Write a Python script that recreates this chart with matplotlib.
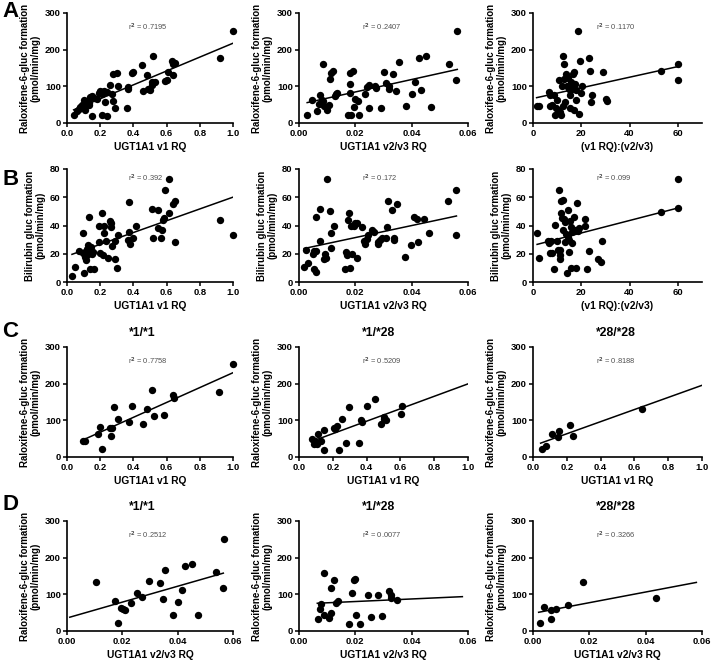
import numpy as np
import matplotlib
matplotlib.use("Agg")
import matplotlib.pyplot as plt
from matplotlib.ticker import FormatStrFormatter, MultipleLocator

plt.rcParams['font.family'] = ['Liberation Sans', 'DejaVu Sans']
plt.rcParams['font.weight'] = 'bold'

# ---- row A: raloxifene glucuronidation ----
a1_x = [0.04, 0.06, 0.07, 0.08, 0.09, 0.10, 0.10, 0.11, 0.12, 0.13, 0.13, 0.14, 0.15, 0.15, 0.16, 0.18, 0.19,
        0.20, 0.21, 0.21, 0.22, 0.23, 0.24, 0.24, 0.26, 0.27, 0.28, 0.28, 0.29, 0.30, 0.31, 0.36, 0.37, 0.37,
        0.39, 0.40, 0.45, 0.46, 0.48, 0.49, 0.50, 0.51, 0.51, 0.52, 0.53, 0.59, 0.60, 0.61, 0.63, 0.64, 0.64,
        0.65, 0.92, 1.00]
a1_y = [22, 33, 38, 45, 48, 40, 62, 35, 60, 55, 50, 72, 75, 20, 68, 65, 83, 87, 80, 22, 88, 58, 20, 85, 103,
        78, 60, 135, 40, 137, 102, 40, 93, 98, 137, 140, 158, 88, 131, 92, 90, 103, 112, 182, 113, 115, 117,
        140, 168, 132, 160, 163, 177, 251]

a2_x = [0.0029, 0.0045, 0.0065, 0.007, 0.0074, 0.008, 0.0085, 0.0086, 0.0088, 0.010, 0.0108, 0.011, 0.0114,
        0.012, 0.0127, 0.013, 0.0135, 0.0174, 0.018, 0.018, 0.0182, 0.0186, 0.019, 0.0195, 0.020, 0.021,
        0.0214, 0.0233, 0.024, 0.025, 0.025, 0.027, 0.0273, 0.029, 0.030, 0.031, 0.032, 0.032, 0.0335,
        0.0346, 0.0355, 0.038, 0.040, 0.0412, 0.0426, 0.0433, 0.045, 0.0467, 0.0533, 0.0559, 0.0562]
a2_y = [23, 63, 34, 52, 76, 63, 161, 59, 47, 36, 50, 119, 137, 142, 74, 80, 83, 22, 136, 82, 106, 22, 141, 45,
        65, 61, 22, 79, 98, 104, 41, 101, 95, 42, 138, 108, 102, 94, 133, 88, 167, 47, 79, 113, 178, 90, 183,
        45, 162, 116, 252]

a3_x = [1.5, 2.6, 6.8, 7.0, 7.0, 7.8, 8.5, 9.3, 9.6, 10.0, 10.5, 10.8, 11.1, 11.5, 12.0, 12.3, 12.6, 13.0,
        13.0, 13.4, 13.8, 14.1, 14.5, 14.9, 15.3, 15.3, 15.6, 16.0, 16.4, 16.5, 16.8, 16.8, 17.3, 17.9, 18.0,
        18.6, 19.0, 19.4, 19.8, 20.1, 23.1, 23.6, 23.9, 24.6, 28.8, 30.3, 30.8, 53.0, 60.0, 60.0]
a3_y = [46, 47, 85, 77, 46, 50, 77, 22, 40, 62, 36, 116, 31, 22, 102, 184, 46, 162, 120, 58, 135, 100, 123, 93,
        76, 40, 111, 93, 133, 98, 138, 36, 107, 89, 62, 252, 24, 169, 82, 102, 178, 141, 58, 77, 138, 65, 60,
        141, 160, 118]

# ---- row B: bilirubin glucuronidation ----
b1_x = [0.03, 0.05, 0.07, 0.094, 0.098, 0.10, 0.11, 0.114, 0.118, 0.118, 0.124, 0.13, 0.134, 0.138, 0.144,
        0.15, 0.157, 0.16, 0.193, 0.193, 0.20, 0.213, 0.217, 0.222, 0.222, 0.236, 0.244, 0.262, 0.266, 0.268,
        0.272, 0.287, 0.29, 0.30, 0.31, 0.366, 0.376, 0.376, 0.38, 0.40, 0.413, 0.51, 0.518, 0.547, 0.55,
        0.567, 0.573, 0.577, 0.587, 0.592, 0.616, 0.616, 0.64, 0.65, 0.652, 0.92, 1.0]
b1_y = [4, 10.7, 22, 20.6, 35, 6.4, 18, 15.4, 19, 23.7, 26, 46, 22.5, 9.5, 25, 19.5, 21.4, 9.5, 40, 28.5, 20.6,
        48.7, 19, 40, 35, 29, 17, 43.4, 41.5, 39, 25.6, 16.6, 29, 10, 33, 30, 56.5, 35.6, 26.6, 31, 39.6, 52,
        31, 51, 38.5, 31, 36.8, 44, 45.6, 64.8, 49, 73, 55, 57, 28.5, 44, 33]

b2_x = [0.0018, 0.0026, 0.0032, 0.0049, 0.0053, 0.0055, 0.0059, 0.0061, 0.0062, 0.0073, 0.0074, 0.0088,
        0.0094, 0.0096, 0.0098, 0.011, 0.0114, 0.0115, 0.0126, 0.0165, 0.0168, 0.017, 0.0174, 0.0176, 0.0182,
        0.0185, 0.0188, 0.0194, 0.020, 0.0206, 0.0206, 0.0224, 0.0232, 0.0233, 0.024, 0.0245, 0.026, 0.0265,
        0.0279, 0.028, 0.0288, 0.0296, 0.0308, 0.0312, 0.0315, 0.033, 0.0338, 0.0339, 0.0347, 0.0376, 0.0396,
        0.0408, 0.0418, 0.0424, 0.0445, 0.0462, 0.053, 0.0559, 0.0559]
b2_y = [10.7, 23, 13.8, 19.7, 22, 9.5, 7, 22, 46, 52, 29, 16, 19.7, 17, 73, 50, 35, 24, 40, 9.5, 21, 19, 44,
        48.7, 10, 40, 20, 40, 41.5, 17, 42, 39, 29, 26.6, 30.4, 33, 36.8, 35.6, 26.6, 28.5, 30, 31.3, 31.3, 39,
        57, 51, 31.3, 29.7, 55, 17.8, 26, 45.8, 44.4, 28.5, 44.4, 35, 57.5, 64.8, 33.2]

b3_x = [1.7, 2.5, 6.2, 6.8, 6.9, 7.5, 7.9, 8.6, 9.1, 10.0, 10.2, 10.6, 11.0, 11.3, 11.3, 11.6, 11.7, 12.0, 12.3,
        12.4, 12.7, 13.1, 13.4, 13.7, 14.1, 14.4, 14.5, 14.8, 15.1, 15.5, 15.8, 15.9, 16.2, 16.2, 17.1, 17.6,
        18.0, 18.2, 18.5, 19.2, 21.7, 21.7, 22.4, 23.1, 27.0, 28.2, 28.6, 53.2, 60.0, 60.0]
b3_y = [35, 17.3, 29, 27.3, 20.2, 29, 20.2, 9, 40.4, 29, 22.5, 65, 22.5, 19, 16, 48.7, 57, 45, 57.7, 36.8, 44.6,
        42.7, 28.5, 34, 6.4, 51, 31.6, 21.4, 29.7, 43.4, 39, 10.2, 27.3, 35.6, 46.3, 36.8, 10.2, 55.8, 36.3, 38,
        44.4, 39.6, 9.5, 22, 16, 14.2, 29.2, 49.9, 52.2, 73]

# ---- row C: raloxifene vs v1 RQ by genotype ----
c1_x = [0.096, 0.106, 0.186, 0.196, 0.21, 0.26, 0.266, 0.274, 0.284, 0.306, 0.372, 0.39, 0.46, 0.484, 0.514,
        0.524, 0.586, 0.636, 0.646, 0.916, 1.0]
c1_y = [44, 45, 62, 82, 23, 79, 56, 80, 136, 103, 95, 138, 89, 132, 184, 112, 115, 168, 162, 177, 253]

c2_x = [0.078, 0.088, 0.094, 0.104, 0.114, 0.128, 0.148, 0.15, 0.208, 0.214, 0.224, 0.234, 0.254, 0.28, 0.294,
        0.354, 0.368, 0.37, 0.404, 0.448, 0.484, 0.5, 0.504, 0.514, 0.604, 0.608]
c2_y = [48, 35, 44, 35, 62, 45, 18, 75, 80, 77, 84, 20, 103, 39, 136, 39, 102, 95, 139, 157, 91, 109, 105, 100,
        116, 139]

c3_x = [0.055, 0.075, 0.114, 0.15, 0.153, 0.22, 0.235, 0.647]
c3_y = [21, 31, 62, 55, 70, 88, 56, 132]

# ---- row D: raloxifene vs v2/v3 RQ by genotype ----
d1_x = [0.0106, 0.0174, 0.0184, 0.0196, 0.0204, 0.021, 0.023, 0.0252, 0.027, 0.0298, 0.0336, 0.0346, 0.0354,
        0.0382, 0.040, 0.0414, 0.0428, 0.045, 0.0472, 0.0538, 0.0564, 0.0568]
d1_y = [135, 81, 22, 63, 59, 56, 77, 103, 94, 137, 131, 88, 167, 45, 79, 111, 176, 182, 43, 161, 116, 251]

d2_x = [0.0067, 0.0076, 0.0079, 0.0087, 0.009, 0.0106, 0.0112, 0.0114, 0.0124, 0.0132, 0.0139, 0.0179, 0.0187,
        0.0196, 0.0199, 0.0202, 0.0218, 0.0246, 0.0255, 0.0279, 0.0293, 0.0318, 0.0326, 0.0328, 0.0347]
d2_y = [33, 61, 75, 158, 45, 36, 49, 117, 140, 77, 83, 20, 104, 138, 143, 43, 20, 97, 39, 99, 41, 108, 99, 90, 84]

d3_x = [0.0025, 0.0039, 0.0063, 0.0065, 0.0083, 0.0125, 0.0176, 0.0435]
d3_y = [23, 65, 33, 56, 59, 72, 134, 90]

# labels / text
r2_text = ["0.7195", "0.2407", "0.1170", "0.392", "0.172", "0.099",
           "0.7758", "0.5209", "0.8188", "0.2512", "0.0077", "0.3266"]
ralox_label = "Raloxifene-6-gluc formation\n(pmol/min/mg)"
bili_label = "Bilirubin gluc formation\n(pmol/min/mg)"
xlab_v1 = "UGT1A1 v1 RQ"
xlab_v23 = "UGT1A1 v2/v3 RQ"
xlab_ratio = "(v1 RQ):(v2/v3)"
genotypes = ["*1/*1", "*1/*28", "*28/*28"]
row_letters = ["A", "B", "C", "D"]

# x range of each regression line
fit_span = [(0.04, 1.0), (0.0029, 0.0562), (1.5, 60), (0.03, 1.0), (0.0018, 0.0559), (1.7, 60),
            (0.096, 1.0), (0.078, 1.0), (0.045, 1.0), (0.001, 0.0565), (0.0065, 0.058), (0.002, 0.058)]

panels = [
    (a1_x, a1_y, xlab_v1, ralox_label),
    (a2_x, a2_y, xlab_v23, ralox_label),
    (a3_x, a3_y, xlab_ratio, ralox_label),
    (b1_x, b1_y, xlab_v1, bili_label),
    (b2_x, b2_y, xlab_v23, bili_label),
    (b3_x, b3_y, xlab_ratio, bili_label),
    (c1_x, c1_y, xlab_v1, ralox_label),
    (c2_x, c2_y, xlab_v1, ralox_label),
    (c3_x, c3_y, xlab_v1, ralox_label),
    (d1_x, d1_y, xlab_v23, ralox_label),
    (d2_x, d2_y, xlab_v23, ralox_label),
    (d3_x, d3_y, xlab_v23, ralox_label),
]

W, H = 711, 660
fig = plt.figure(figsize=(W / 100, H / 100), dpi=100)

col_left = [67, 299, 533]
col_width = [166, 169, 169]
row_top = [13, 169, 347, 521]
row_bot = [123, 282, 457, 631]

for i, (x, y, xlab, ylab) in enumerate(panels):
    r, c = divmod(i, 3)
    ax = fig.add_axes([col_left[c] / W, 1 - row_bot[r] / H,
                       col_width[c] / W, (row_bot[r] - row_top[r]) / H])
    ax.scatter(x, y, s=28, color="black", linewidths=0, clip_on=False, zorder=3)

    # linear regression line
    slope, icpt = np.polyfit(x, y, 1)
    lx = np.array(fit_span[i])
    ax.plot(lx, slope * lx + icpt, color="black", lw=1.1, zorder=2)

    # axis ranges
    if xlab == xlab_v1:
        ax.set_xlim(0, 1.0)
        ax.xaxis.set_major_locator(MultipleLocator(0.2))
        ax.xaxis.set_major_formatter(FormatStrFormatter("%.1f"))
    elif xlab == xlab_v23:
        ax.set_xlim(0, 0.06)
        ax.xaxis.set_major_locator(MultipleLocator(0.02))
        ax.xaxis.set_major_formatter(FormatStrFormatter("%.2f"))
    else:
        ax.set_xlim(0, 70)
        ax.xaxis.set_major_locator(MultipleLocator(20))
    if r == 1:
        ax.set_ylim(0, 80)
        ax.yaxis.set_major_locator(MultipleLocator(20))
    else:
        ax.set_ylim(0, 300)
        ax.yaxis.set_major_locator(MultipleLocator(100))

    for s in ("top", "right"):
        ax.spines[s].set_visible(False)
    for s in ("left", "bottom"):
        ax.spines[s].set_linewidth(1.2)
    ax.tick_params(direction="out", length=3, width=1.1, labelsize=6.8, pad=1.5)
    for lab in ax.get_xticklabels() + ax.get_yticklabels():
        lab.set_fontweight("bold")

    ax.set_xlabel(xlab, fontsize=7.4, fontweight="bold", labelpad=2.5)
    ax.set_ylabel(ylab, fontsize=7.0, fontweight="bold", labelpad=3, linespacing=1.15)

    ty = 0.92 if r == 1 else 0.87
    ax.text(0.37, ty, "r$^2$ = " + r2_text[i], transform=ax.transAxes, fontsize=5.4,
            fontweight="normal", color="#505050", ha="left", va="center")

    if r >= 2:
        ax.text(0.37, 1.13, genotypes[c], transform=ax.transAxes, fontsize=8.8,
                fontweight="bold", ha="left", va="center")

# panel letters
letter_top = [1, 169, 321, 494]
for letter, t in zip(row_letters, letter_top):
    fig.text(2 / W, 1 - t / H, letter, fontsize=16, fontweight="bold", ha="left", va="top")

fig.savefig("out.png", dpi=100)
